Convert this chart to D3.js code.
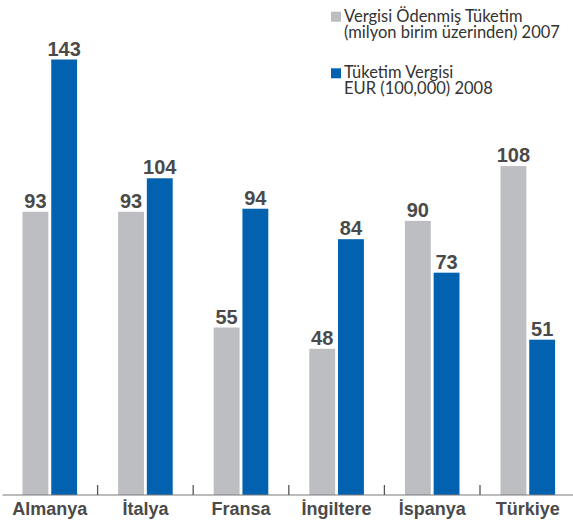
<!DOCTYPE html>
<html>
<head>
<meta charset="utf-8">
<script src="https://cdn.jsdelivr.net/npm/d3@7"></script>
<style>
  html, body { margin: 0; padding: 0; background: #fff; }
</style>
</head>
<body>
<div id="chart"></div>
<script>
// Données
const countries = ["Almanya", "İtalya", "Fransa", "İngiltere", "İspanya", "Türkiye"]
const series = ["2007", "2008"]
const values2007 = [93, 93, 55, 48, 90, 108]
const values2008 = [143, 104, 94, 84, 73, 51]
const legendLabels = [
  ["Vergisi Ödenmiş Tüketim", "(milyon birim üzerinden) 2007"],
  ["Tüketim Vergisi", "EUR (100,000) 2008"],
]

const W = 573, H = 527
const colors = { "2007": "#bdbec1", "2008": "#0262b0" }

const rows = countries.map((c, i) => ({ country: c, "2007": values2007[i], "2008": values2008[i] }))

const svg = d3.select("#chart").append("svg")
  .attr("width", W).attr("height", H)
  .style("display", "block")

const baseY = 495
const x0 = d3.scaleBand().domain(countries).range([2, 575.6]).padding(0)
const x1 = d3.scaleBand().domain(series).range([20.5, 75.1]).paddingInner(0.1)
const y = d3.scaleLinear().domain([0, 143]).range([baseY, 59.5])

// Barres
const groups = svg.append("g").selectAll("g")
  .data(rows)
  .join("g")
  .attr("transform", (d) => `translate(${x0(d.country)},0)`)

groups.selectAll("rect")
  .data((d) => series.map((s) => ({ s, v: d[s] })))
  .join("rect")
  .attr("x", (d) => x1(d.s))
  .attr("y", (d) => y(d.v))
  .attr("width", x1.bandwidth())
  .attr("height", (d) => y(0) - y(d.v))
  .attr("fill", (d) => colors[d.s])

// Valeurs au-dessus des barres
groups.selectAll("text.val")
  .data((d) => series.map((s) => ({ s, v: d[s] })))
  .join("text")
  .attr("class", "val")
  .attr("x", (d) => x1(d.s) + x1.bandwidth() / 2)
  .attr("y", (d) => y(d.v) - 4)
  .attr("text-anchor", "middle")
  .attr("font-family", "Liberation Sans, Arial, sans-serif")
  .attr("font-weight", "bold")
  .attr("font-size", 20)
  .attr("fill", "#4a4a4a")
  .text((d) => d.v)

// Axe des catégories
const axis = svg.append("g")
  .attr("transform", `translate(0,${baseY})`)
  .call(d3.axisBottom(x0).tickSize(0).tickPadding(0))
axis.select(".domain").remove()
axis.selectAll("text")
  .attr("y", 20).attr("dy", 0)
  .attr("font-family", "Liberation Sans, Arial, sans-serif")
  .attr("font-weight", "bold")
  .attr("font-size", 18)
  .attr("fill", "#4a4a4a")

svg.append("line")
  .attr("x1", 2.5).attr("x2", W)
  .attr("y1", baseY).attr("y2", baseY)
  .attr("stroke", "#7a7a7a").attr("stroke-width", 1.2)

// Séparateurs entre groupes
svg.append("g").selectAll("line")
  .data(countries.slice(1))
  .join("line")
  .attr("x1", (c) => x0(c)).attr("x2", (c) => x0(c))
  .attr("y1", baseY - 10).attr("y2", baseY)
  .attr("stroke", "#555").attr("stroke-width", 1.3)

// Légende (un texte sur deux lignes par série)
const legend = svg.append("g")
const legendY = [21.7, 78.3]
series.forEach((s, i) => {
  legend.append("rect")
    .attr("x", 331).attr("y", legendY[i] - 10)
    .attr("width", 10).attr("height", 10)
    .attr("fill", colors[s])
  const t = legend.append("text")
    .attr("x", 344).attr("y", legendY[i])
    .attr("font-family", "Lato, sans-serif")
    .attr("font-size", 16.5)
    .attr("fill", "#333")
  legendLabels[i].forEach((line, j) => {
    t.append("tspan")
      .attr("x", 344).attr("dy", j === 0 ? 0 : 16)
      .text(line)
  })
})
</script>
</body>
</html>
